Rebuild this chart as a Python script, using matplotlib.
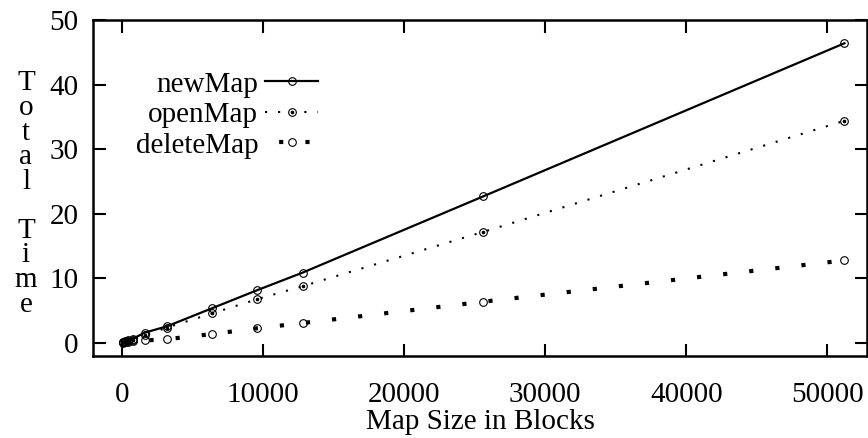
import matplotlib
matplotlib.use("Agg")
import matplotlib.pyplot as plt
from matplotlib.legend_handler import HandlerTuple
from matplotlib.lines import Line2D

plt.rcParams['font.family'] = ['Liberation Serif', 'DejaVu Serif']

map_size = [100, 200, 400, 800, 1600, 3200, 6400, 9600, 12800, 25600, 51200]
new_map = [0.15, 0.25, 0.4, 0.7, 1.6, 2.6, 5.4, 8.2, 10.9, 22.7, 46.4]
open_map = [0.1, 0.2, 0.3, 0.55, 1.2, 2.4, 4.6, 6.8, 8.8, 17.2, 34.4]
delete_map = [0.05, 0.1, 0.15, 0.25, 0.4, 0.6, 1.4, 2.3, 3.1, 6.4, 12.8]
series_labels = ['newMap', 'openMap', 'deleteMap']

xticks = [0, 10000, 20000, 30000, 40000, 50000]
yticks = [0, 10, 20, 30, 40, 50]

W, H = 868, 438
fig = plt.figure(figsize=(W / 100, H / 100), dpi=100)
ax = fig.add_axes([93 / W, 1 - 356 / H, 774 / W, 336 / H])

FS = 21
ms = 5.5
mew = 0.8

del_style = dict(color='black', lw=3.0, dash_capstyle='butt', marker='o',
                 ms=ms, mfc='none', mec='black', mew=mew)

l1, = ax.plot(map_size, new_map, color='black', lw=1.6, marker='o', ms=ms,
              mfc='none', mec='black', mew=mew)
l2, = ax.plot(map_size, open_map, color='black', lw=1.5, ls=(0, (1, 5.3)),
              dash_capstyle='butt', marker='o', ms=ms, mfc='none', mec='black',
              mew=mew)
l2d, = ax.plot(map_size, open_map, ls='none', marker='o', ms=1.6,
               color='black')
l3, = ax.plot(map_size, delete_map, ls=(0, (1, 5.3)), **del_style)

# legend proxy for deleteMap with dashes shifted off the marker
l3_leg = Line2D([], [], ls=(3.15, (1, 5.3)), **del_style)

ax.set_xlim(-2050, 52800)
ax.set_ylim(-2, 50)
ax.set_xticks(xticks)
ax.set_yticks(yticks)
ax.set_xticklabels([str(v) for v in xticks])
ax.set_yticklabels([str(v) for v in yticks])
ax.tick_params(direction='in', length=9, width=1.5, labelsize=FS,
               top=True, right=True)
ax.tick_params(axis='x', pad=19)
ax.tick_params(axis='y', pad=10.5)
for s in ax.spines.values():
    s.set_linewidth(1.8)

fig.text(480 / W, 1 - 422 / H, 'Map Size in Blocks', ha='center', va='center',
         fontsize=FS)
fig.text(26 / W, 1 - 194 / H, 'T\no\nt\na\nl\n \nT\ni\nm\ne', ha='center',
         va='center', fontsize=FS, linespacing=0.93)

leg = fig.legend([l1, (l2, l2d), l3_leg], series_labels,
                 handler_map={tuple: HandlerTuple(ndivide=1)},
                 loc='center right', bbox_to_anchor=(318 / W, 1 - 115 / H),
                 frameon=False, markerfirst=False, fontsize=FS,
                 handlelength=1.8, handletextpad=0.25, labelspacing=0.14,
                 numpoints=1, borderaxespad=0.0, borderpad=0.0)

fig.savefig('out.png', dpi=100)
